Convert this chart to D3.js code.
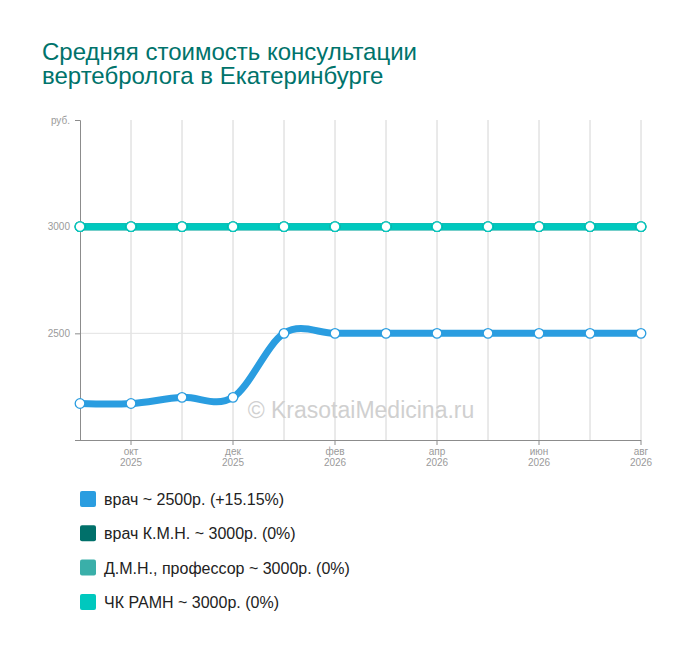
<!DOCTYPE html>
<html>
<head>
<meta charset="utf-8">
<script src="https://cdn.jsdelivr.net/npm/d3@7"></script>
<style>
  body { margin: 0; background: #fff; }
  svg { font-family: "Liberation Sans", Arial, sans-serif; }
</style>
</head>
<body>
<div id="chart"></div>
<script>
// months Sep 2025 .. Aug 2026
const months = ['сен', 'окт', 'ноя', 'дек', 'янв', 'фев', 'мар', 'апр', 'май', 'июн', 'июл', 'авг'];
const years = [2025, 2025, 2025, 2025, 2026, 2026, 2026, 2026, 2026, 2026, 2026, 2026];
const labeledMonths = [1, 3, 5, 7, 9, 11];

const vrach = [2171, 2171, 2200, 2200, 2500, 2500, 2500, 2500, 2500, 2500, 2500, 2500];
const vrachKmn = [3000, 3000, 3000, 3000, 3000, 3000, 3000, 3000, 3000, 3000, 3000, 3000];
const dmn = [3000, 3000, 3000, 3000, 3000, 3000, 3000, 3000, 3000, 3000, 3000, 3000];
const chkRamn = [3000, 3000, 3000, 3000, 3000, 3000, 3000, 3000, 3000, 3000, 3000, 3000];

const seriesNames = ['врач ~ 2500р. (+15.15%)', 'врач К.М.Н. ~ 3000р. (0%)', 'Д.М.Н., профессор ~ 3000р. (0%)', 'ЧК РАМН ~ 3000р. (0%)'];
const seriesColors = ['#2a9de0', '#00706a', '#3aafa9', '#00c8be'];
const yTicks = [2500, 3000];

const W = 700, H = 651;
const svg = d3.select('#chart').append('svg').attr('width', W).attr('height', H);

svg.append('text').attr('x', 42).attr('y', 60)
  .attr('fill', '#00736b').style('font-size', '24px')
  .text('Средняя стоимость консультации');
svg.append('text').attr('x', 42).attr('y', 84)
  .attr('fill', '#00736b').style('font-size', '24px')
  .text('вертебролога в Екатеринбурге');

const x = d3.scalePoint().domain(d3.range(months.length)).range([80, 641]);
const y = d3.scaleLinear().domain([2000, 3500]).range([440, 120]);

// vertical grid
svg.append('g').selectAll('line').data(d3.range(1, months.length)).enter().append('line')
  .attr('x1', d => x(d)).attr('x2', d => x(d))
  .attr('y1', y(3500)).attr('y2', y(2000))
  .attr('stroke', '#d4d4d4').attr('stroke-width', 1);

// horizontal grid
svg.append('g').selectAll('line').data(yTicks).enter().append('line')
  .attr('x1', 80).attr('x2', 641)
  .attr('y1', d => y(d)).attr('y2', d => y(d))
  .attr('stroke', '#e2e2e2').attr('stroke-width', 1);

// y axis
const yAxis = d3.axisLeft(y).tickValues([2500, 3000, 3500]).tickSize(5).tickPadding(5)
  .tickFormat(d => d === 3500 ? 'руб.' : d);
const gy = svg.append('g').attr('transform', 'translate(80,0)').call(yAxis);
gy.select('.domain').attr('stroke', '#8c8c8c');
gy.selectAll('.tick line').attr('stroke', '#8c8c8c');
gy.selectAll('.tick text').attr('fill', '#9a9a9a').style('font-size', '10px').style('font-family', 'Liberation Sans, Arial, sans-serif');

// x axis
svg.append('line').attr('x1', 75).attr('x2', 641).attr('y1', 440.5).attr('y2', 440.5)
  .attr('stroke', '#8c8c8c');
const xt = svg.append('g').selectAll('g').data(labeledMonths).enter().append('g')
  .attr('transform', d => `translate(${x(d)},440)`);
xt.append('line').attr('y1', 0).attr('y2', 5).attr('stroke', '#8c8c8c');
xt.append('text').attr('y', 15).attr('text-anchor', 'middle').attr('fill', '#9a9a9a')
  .style('font-size', '10px').text(d => months[d]);
xt.append('text').attr('y', 26).attr('text-anchor', 'middle').attr('fill', '#9a9a9a')
  .style('font-size', '10px').text(d => years[d]);

// watermark
svg.append('text').attr('x', 361).attr('y', 418).attr('text-anchor', 'middle')
  .attr('fill', '#d0d0d0').style('font-size', '23px')
  .text('© KrasotaiMedicina.ru');

const line = d3.line().x((d, i) => x(i)).y(d => y(d)).curve(d3.curveCardinal.tension(0));
const allSeries = [vrach, vrachKmn, dmn, chkRamn];

allSeries.forEach((vals, si) => {
  svg.append('path').datum(vals).attr('d', line)
    .attr('fill', 'none').attr('stroke', seriesColors[si]).attr('stroke-width', 7)
    .attr('stroke-linecap', 'round');
});
allSeries.forEach((vals, si) => {
  svg.append('g').selectAll('circle').data(vals).enter().append('circle')
    .attr('cx', (d, i) => x(i)).attr('cy', d => y(d)).attr('r', 4.8)
    .attr('fill', '#fff').attr('stroke', seriesColors[si]).attr('stroke-width', 1.3);
});

// legend
const leg = svg.append('g').selectAll('g').data(seriesNames).enter().append('g')
  .attr('transform', (d, i) => `translate(80,${491 + i * 34.3})`);
leg.append('rect').attr('width', 16).attr('height', 16).attr('rx', 2)
  .attr('fill', (d, i) => seriesColors[i]);
leg.append('text').attr('x', 24).attr('y', 14).attr('fill', '#222')
  .style('font-size', '16px').text(d => d);
</script>
</body>
</html>
